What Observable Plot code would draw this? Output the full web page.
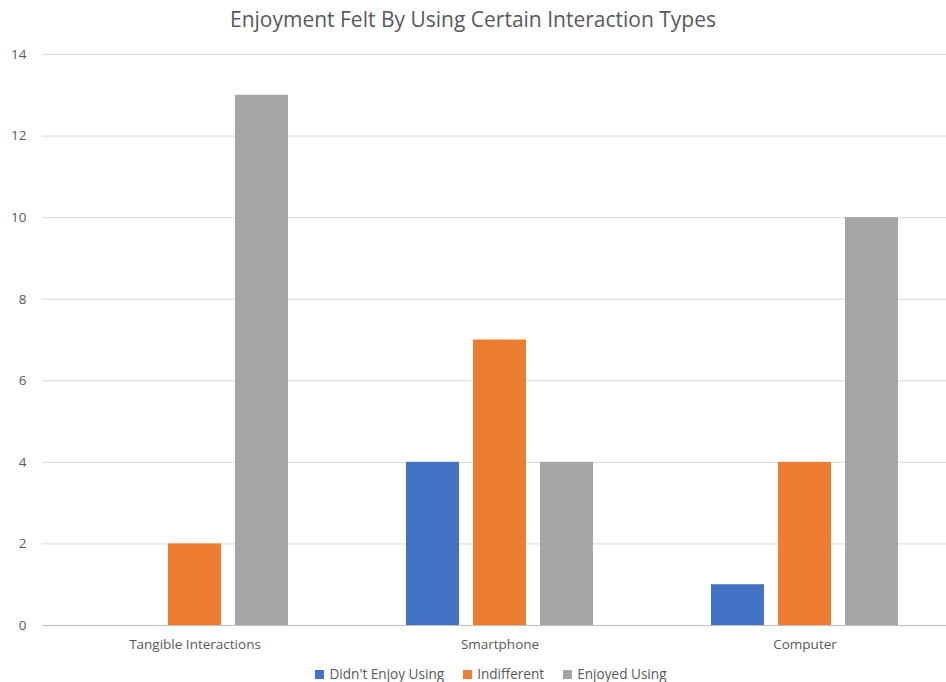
<!DOCTYPE html>
<html>
<head>
<meta charset="utf-8">
<script src="https://cdn.jsdelivr.net/npm/d3@7"></script>
<script src="https://cdn.jsdelivr.net/npm/@observablehq/plot@0.6"></script>
<style>
  html, body { margin: 0; padding: 0; background: #fff; }
  #wrap { position: relative; width: 946px; height: 682px; font-family: "Open Sans", Lato, sans-serif; color: #595959; }
  #title { position: absolute; top: 5px; left: 0; width: 946px; text-align: center; font-size: 21px; }
  #chart { position: absolute; top: 0; left: 0; }
  #legend { position: absolute; top: 665px; left: 18px; width: 946px; display: flex; justify-content: center; gap: 19px; font-size: 13.6px; line-height: 18px; }
  #legend span.sw { display: inline-block; width: 9px; height: 9px; margin-right: 5px; }
</style>
</head>
<body>
<div id="wrap">
  <div id="title">Enjoyment Felt By Using Certain Interaction Types</div>
  <div id="chart"></div>
  <div id="legend"></div>
</div>
<script>
const categories = ["Tangible Interactions", "Smartphone", "Computer"];
const seriesNames = ["Didn't Enjoy Using", "Indifferent", "Enjoyed Using"];
const didntEnjoy = [0, 4, 1];
const indifferent = [2, 7, 4];
const enjoyed = [13, 4, 10];
const yTicks = [0, 2, 4, 6, 8, 10, 12, 14];
const colors = ["#4472C4", "#ED7D31", "#A5A5A5"];

const seriesValues = [didntEnjoy, indifferent, enjoyed];
const rows = [];
categories.forEach((c, i) => {
  seriesNames.forEach((s, j) => {
    rows.push({category: c, series: s, value: seriesValues[j][i]});
  });
});

const chart = Plot.plot({
  width: 946,
  height: 682,
  marginTop: 54,
  marginBottom: 57,
  marginLeft: 42,
  marginRight: 0,
  style: {fontFamily: "'Open Sans', Lato, sans-serif", fontSize: "13.5px", color: "#595959", background: "transparent"},
  fx: {domain: categories, range: [42, 957], padding: 0, label: null, axis: "bottom", tickSize: 0, tickPadding: 14},
  x: {domain: seriesNames, paddingInner: 0.207, paddingOuter: 0.863, axis: null},
  y: {domain: [0, 14], ticks: yTicks, label: null, tickSize: 0, tickPadding: 16},
  color: {domain: seriesNames, range: colors},
  marks: [
    Plot.ruleY(yTicks.filter(d => d > 0), {stroke: "#d9d9d9", strokeWidth: 1}),
    Plot.barY(rows, {fx: "category", x: "series", y: "value", fill: "series"}),
    Plot.ruleY([0], {stroke: "#bfbfbf", strokeWidth: 1})
  ]
});
document.getElementById("chart").appendChild(chart);

const legend = document.getElementById("legend");
seriesNames.forEach((s, i) => {
  const item = document.createElement("div");
  item.innerHTML = `<span class="sw" style="background:${colors[i]}"></span>${s}`;
  legend.appendChild(item);
});
</script>
</body>
</html>
